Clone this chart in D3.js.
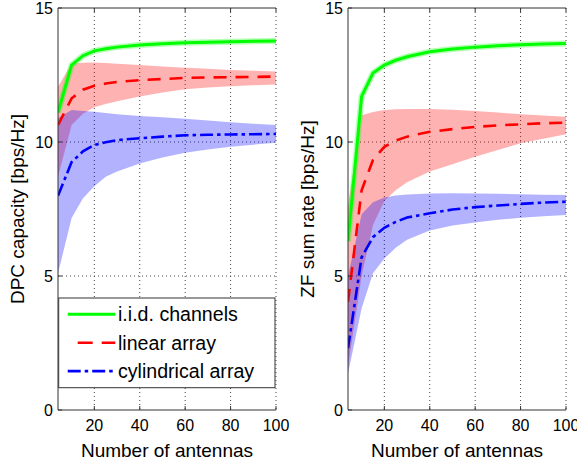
<!DOCTYPE html>
<html lang="en">
<head>
<meta charset="UTF-8">
<title>DPC capacity and ZF sum rate vs number of antennas</title>
<script src="https://d3js.org/d3.v7.min.js"></script>
<style>
  body { margin: 0; background: #fff; }
  text { font-family: "Liberation Sans", Arial, sans-serif; fill: #000; }
</style>
</head>
<body>
<svg id="chart" width="577" height="462"></svg>
<script>
// number of antennas (x)
const antennas = [4, 10, 15, 20, 25, 30, 40, 50, 60, 70, 80, 90, 100];
const xTicks = [20, 40, 60, 80, 100];
const yTicks = [0, 5, 10, 15];

// left: DPC capacity [bps/Hz]
const dpcIid    = [11.1, 12.87, 13.22, 13.4, 13.48, 13.54, 13.62, 13.67, 13.7, 13.72, 13.74, 13.76, 13.77];
const dpcLin    = [10.63, 11.63, 11.95, 12.1, 12.18, 12.24, 12.31, 12.35, 12.39, 12.41, 12.42, 12.43, 12.44];
const dpcLinHi  = [12.06, 12.93, 12.96, 12.97, 12.95, 12.92, 12.87, 12.82, 12.77, 12.73, 12.69, 12.66, 12.63];
const dpcLinLo  = [8.7, 10.63, 11.05, 11.3, 11.42, 11.52, 11.7, 11.85, 11.97, 12.03, 12.08, 12.12, 12.15];
const dpcCyl    = [7.99, 9.25, 9.65, 9.89, 9.99, 10.07, 10.14, 10.2, 10.25, 10.27, 10.28, 10.29, 10.3];
const dpcCylHi  = [10.9, 11.19, 11.16, 11.13, 11.08, 11.04, 10.97, 10.92, 10.87, 10.8, 10.74, 10.68, 10.63];
const dpcCylLo  = [5.1, 7.16, 7.9, 8.35, 8.7, 8.9, 9.2, 9.42, 9.6, 9.72, 9.82, 9.9, 9.97];

// right: ZF sum rate [bps/Hz]
const zfIid     = [6.3, 11.7, 12.57, 12.87, 13.05, 13.18, 13.37, 13.47, 13.54, 13.59, 13.63, 13.66, 13.68];
const zfLin     = [4.04, 8.2, 9.33, 9.82, 10.05, 10.2, 10.38, 10.48, 10.56, 10.62, 10.66, 10.7, 10.72];
const zfLinHi   = [7.6, 11.0, 11.12, 11.19, 11.22, 11.23, 11.23, 11.2, 11.16, 11.1, 11.04, 10.99, 10.94];
const zfLinLo   = [1.6, 5.0, 6.9, 7.8, 8.2, 8.5, 8.9, 9.17, 9.45, 9.7, 9.95, 10.12, 10.29];
const zfCyl     = [2.3, 5.7, 6.45, 6.8, 7.02, 7.18, 7.34, 7.48, 7.57, 7.63, 7.69, 7.74, 7.77];
const zfCylHi   = [5.0, 7.3, 7.75, 7.93, 8.0, 8.04, 8.08, 8.09, 8.08, 8.07, 8.05, 8.03, 8.02];
const zfCylLo   = [1.35, 3.8, 5.1, 5.65, 6.05, 6.35, 6.7, 6.88, 7.0, 7.1, 7.17, 7.23, 7.28];

const legendLabels = ["i.i.d. channels", "linear array", "cylindrical array"];

const svg = d3.select("#chart");
const yTop = 8, yBot = 410;
const y = d3.scaleLinear().domain([0, 15]).range([yBot, yTop]);

const styles = [
  { color: "#00ff00", width: 3, dash: null, band: null },
  { color: "#ff0000", width: 2.6, dash: "13,9", band: "#ff0000" },
  { color: "#0000ff", width: 2.6, dash: "13,4,3.5,4", band: "#0000ff" }
];

function panel(left, right, ylabel, labelX, series, id) {
  const x = d3.scaleLinear().domain([4, 100]).range([left, right]);
  const g = svg.append("g");

  g.append("clipPath").attr("id", id).append("rect")
    .attr("x", left).attr("y", yTop).attr("width", right - left).attr("height", yBot - yTop);

  // dotted grid
  g.selectAll(".gx").data(xTicks).join("line")
    .attr("x1", d => x(d)).attr("x2", d => x(d)).attr("y1", yTop).attr("y2", yBot)
    .attr("stroke", "#444").attr("stroke-dasharray", "1,3");
  g.selectAll(".gy").data(yTicks.slice(1, 3)).join("line")
    .attr("x1", left).attr("x2", right).attr("y1", d => y(d)).attr("y2", d => y(d))
    .attr("stroke", "#444").attr("stroke-dasharray", "1,3");

  const plot = g.append("g").attr("clip-path", `url(#${id})`);

  // spread bands
  series.forEach((s, k) => {
    if (!s.lo) return;
    const area = d3.area()
      .x((d, i) => x(antennas[i]))
      .y0((d, i) => y(s.lo[i]))
      .y1((d, i) => y(s.hi[i]));
    plot.append("path").datum(s.mean).attr("d", area)
      .attr("fill", styles[k].band).attr("fill-opacity", 0.3);
  });

  const line = d3.line().x((d, i) => x(antennas[i])).y(d => y(d));
  // faint halo on the i.i.d. curve
  plot.append("path").datum(series[0].mean).attr("d", line)
    .attr("fill", "none").attr("stroke", "#00ff00").attr("stroke-opacity", 0.3).attr("stroke-width", 6);

  [2, 1, 0].forEach(k => {
    plot.append("path").datum(series[k].mean).attr("d", line)
      .attr("fill", "none").attr("stroke", styles[k].color)
      .attr("stroke-width", styles[k].width)
      .attr("stroke-dasharray", styles[k].dash);
  });

  // axes box (left, bottom, top)
  const ax = "#333";
  g.append("path").attr("d", `M${right},${yTop}H${left}V${yBot}H${right}`)
    .attr("fill", "none").attr("stroke", ax);
  g.selectAll(".tx").data(xTicks).join("path")
    .attr("d", d => `M${x(d)},${yBot}v-4M${x(d)},${yTop}v4`).attr("stroke", ax);
  g.selectAll(".ty").data(yTicks).join("path")
    .attr("d", d => `M${left},${y(d)}h4`).attr("stroke", ax);

  g.selectAll(".lx").data(xTicks).join("text")
    .attr("x", d => x(d)).attr("y", 431).attr("text-anchor", "middle")
    .attr("font-size", 16).text(d => d);
  g.selectAll(".ly").data(yTicks).join("text")
    .attr("x", left - 5).attr("y", d => y(d)).attr("dy", "0.36em").attr("text-anchor", "end")
    .attr("font-size", 16).text(d => d);

  g.append("text").attr("x", (left + right) / 2).attr("y", 456.5)
    .attr("text-anchor", "middle").attr("font-size", 19).text("Number of antennas");
  g.append("text").attr("transform", `translate(${labelX},${(yTop + yBot) / 2}) rotate(-90)`)
    .attr("text-anchor", "middle").attr("font-size", 19).text(ylabel);
}

panel(58, 276, "DPC capacity [bps/Hz]", 24, [
  { mean: dpcIid },
  { mean: dpcLin, lo: dpcLinLo, hi: dpcLinHi },
  { mean: dpcCyl, lo: dpcCylLo, hi: dpcCylHi }
], "clipL");

panel(348, 566, "ZF sum rate [bps/Hz]", 314, [
  { mean: zfIid },
  { mean: zfLin, lo: zfLinLo, hi: zfLinHi },
  { mean: zfCyl, lo: zfCylLo, hi: zfCylHi }
], "clipR");

// legend in the left panel
const lg = svg.append("g");
lg.append("rect").attr("x", 58.7).attr("y", 298).attr("width", 216.3).attr("height", 89.7)
  .attr("fill", "#fff").attr("stroke", "#333");
const legendDash = [null, "0,10,15,9,14,50", "13,4,3.5,4,13,4,3.5,4"];
legendLabels.forEach((lab, k) => {
  const ly = 314.3 + k * 28.4;
  lg.append("line").attr("x1", 67.7).attr("x2", 115.3).attr("y1", ly).attr("y2", ly)
    .attr("stroke", styles[k].color).attr("stroke-width", styles[k].width)
    .attr("stroke-dasharray", legendDash[k]);
  lg.append("text").attr("x", 118).attr("y", ly + 7).attr("font-size", 19.6).text(lab);
});
</script>
</body>
</html>
